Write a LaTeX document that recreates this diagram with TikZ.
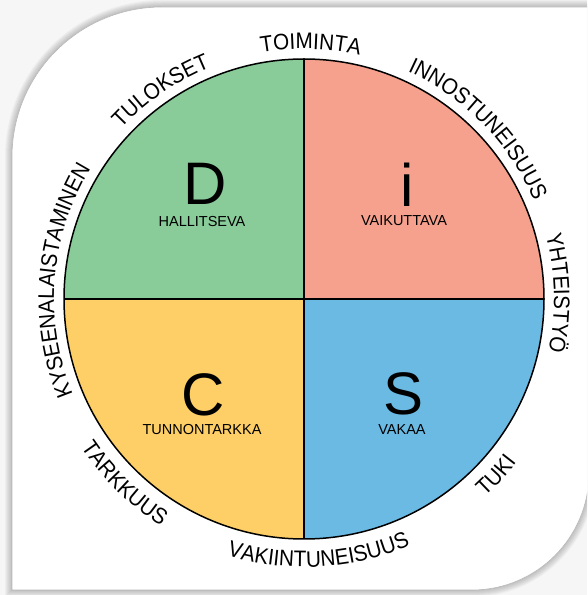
\documentclass[tikz,border=0pt]{standalone}
\usepackage{fontspec}
\setmainfont{Liberation Sans}
\newfontfamily\rimfont[FakeStretch=0.92]{Liberation Sans}
\usetikzlibrary{decorations.text}
\definecolor{discgreen}{RGB}{137,203,153}
\definecolor{discred}{RGB}{245,161,141}
\definecolor{discyellow}{RGB}{253,207,102}
\definecolor{discblue}{RGB}{106,186,228}

\begin{document}
\begin{tikzpicture}[x=1pt, y=1pt,
  rimtext/.style={decorate, decoration={text along path, text align=center, text={|\rimfont\fontsize{22.5}{26}\selectfont|#1}}},
  bigletter/.style={font=\fontsize{60}{60}\selectfont, anchor=base, inner sep=0pt},
  typename/.style={font=\fontsize{14.5}{16}\selectfont, anchor=base, inner sep=0pt},
  rim/.style={line width=1.5pt}]
 \useasboundingbox (0,0) rectangle (587,595);
 \clip (0,0) rectangle (587,595);
 \fill[gray!7] (0,0) rectangle (587,595);

 % card with soft edge
 \foreach \w in {14,12,...,2}
  \draw[black, opacity=0.03, line width=\w pt] (12,5) -- (12,438) arc[start angle=180, end angle=90, radius=150] -- (589,588) -- (589,122) arc[start angle=0, end angle=-90, radius=117] -- cycle;
 \filldraw[fill=white, draw=gray!55, line width=0.6pt] (12,5) -- (12,438) arc[start angle=180, end angle=90, radius=150] -- (589,588) -- (589,122) arc[start angle=0, end angle=-90, radius=117] -- cycle;

 \coordinate (ctr) at (304,296);
 \coordinate (top) at (304,536);
 \coordinate (bot) at (304,56);
 \coordinate (lft) at (64,296);
 \coordinate (rgt) at (544,296);

 % quadrants
 \fill[discgreen] (ctr) -- (top) arc[start angle=90, end angle=180, radius=240] -- cycle;
 \fill[discred] (ctr) -- (rgt) arc[start angle=0, end angle=90, radius=240] -- cycle;
 \fill[discblue] (ctr) -- (bot) arc[start angle=-90, end angle=0, radius=240] -- cycle;
 \fill[discyellow] (ctr) -- (lft) arc[start angle=180, end angle=270, radius=240] -- cycle;
 \draw[rim] (ctr) circle[radius=240];
 \draw[rim] (top) -- (bot);
 \draw[rim] (lft) -- (rgt);

 \node[bigletter] (D) at (205,390) {D};
 \node[typename] (Dname) at (202,368) {HALLITSEVA};
 \node[bigletter] (I) at (407,388) {i};
 \node[typename] (Iname) at (404,369) {VAIKUTTAVA};
 \node[bigletter] (C) at (203,179) {C};
 \node[typename] (Cname) at (202,160) {TUNNONTARKKA};
 \node[bigletter] (S) at (404,180) {S};
 \node[typename] (Sname) at (402,160) {VAKAA};

 % words round the rim
 \begin{scope}[shift={(ctr)}]
  \path[rimtext=KYSEENALAISTAMINEN] (220.5:250) arc[start angle=220.5, end angle=130.5, radius=250];
  \path[rimtext=TULOKSET] (169.5:250) arc[start angle=169.5, end angle=79.5, radius=250];
  \path[rimtext=TOIMINTA] (133.5:250) arc[start angle=133.5, end angle=43.5, radius=250];
  \path[rimtext=INNOSTUNEISUUS] (89.3:250) arc[start angle=89.3, end angle=-0.7, radius=250];
  \path[rimtext=YHTEISTYÖ] (46.3:250) arc[start angle=46.3, end angle=-43.7, radius=250];
  \path[rimtext=TUKI] (-87.5:268) arc[start angle=-87.5, end angle=2.5, radius=268];
  \path[rimtext=VAKIINTUNEISUUS] (-131.7:268) arc[start angle=-131.7, end angle=-41.7, radius=268];
  \path[rimtext=TARKKUUS] (180.7:268) arc[start angle=180.7, end angle=270.7, radius=268];
 \end{scope}
\end{tikzpicture}
\end{document}
